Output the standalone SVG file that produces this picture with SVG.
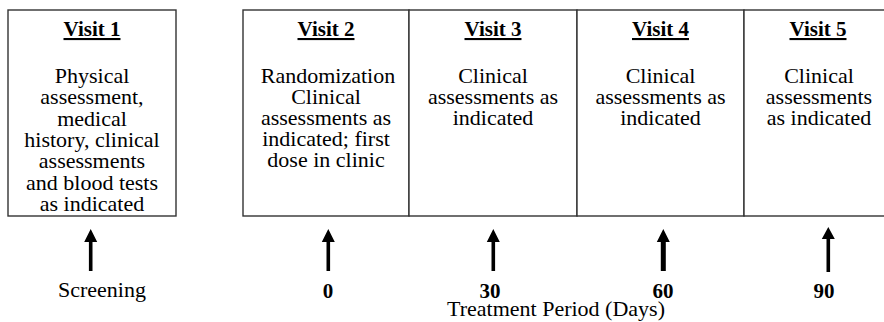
<svg xmlns="http://www.w3.org/2000/svg" width="884" height="322" viewBox="0 0 884 322">
<style>
.box{fill:#fff;stroke:#333;stroke-width:1.4}
.t{font-family:"Liberation Serif","Times New Roman",serif;font-size:22px;fill:#000;text-anchor:middle}
.h{font-family:"Liberation Serif","Times New Roman",serif;font-size:21px;font-weight:bold;fill:#000;text-anchor:middle;text-decoration:underline}
.n{font-family:"Liberation Serif","Times New Roman",serif;font-size:21px;font-weight:bold;fill:#000;text-anchor:middle}
.arr{fill:#000}
</style>
<rect width="884" height="322" fill="#fff"/>
<g id="visit1">
<rect class="box" x="8" y="10" width="168" height="206"/>
<text class="h" x="92" y="36">Visit 1</text>
<text class="t" x="92" y="83">Physical</text>
<text class="t" x="92" y="104.3">assessment,</text>
<text class="t" x="92" y="125.6">medical</text>
<text class="t" x="92" y="146.9">history, clinical</text>
<text class="t" x="92" y="168.2">assessments</text>
<text class="t" x="92" y="189.5">and blood tests</text>
<text class="t" x="92" y="210.8">as indicated</text>
</g>
<g id="visit2">
<rect class="box" x="243" y="10" width="166" height="206"/>
<text class="h" x="326" y="36">Visit 2</text>
<text class="t" x="328" y="83">Randomization</text>
<text class="t" x="326" y="104">Clinical</text>
<text class="t" x="326" y="125">assessments as</text>
<text class="t" x="326" y="146">indicated; first</text>
<text class="t" x="326" y="167">dose in clinic</text>
</g>
<g id="visit3">
<rect class="box" x="409" y="10" width="168" height="206"/>
<text class="h" x="493" y="36">Visit 3</text>
<text class="t" x="493" y="83">Clinical</text>
<text class="t" x="493" y="104">assessments as</text>
<text class="t" x="493" y="125">indicated</text>
</g>
<g id="visit4">
<rect class="box" x="577" y="10" width="167" height="206"/>
<text class="h" x="660.5" y="36">Visit 4</text>
<text class="t" x="660.5" y="83">Clinical</text>
<text class="t" x="660.5" y="104">assessments as</text>
<text class="t" x="660.5" y="125">indicated</text>
</g>
<g id="visit5">
<rect class="box" x="744" y="10" width="150" height="206"/>
<text class="h" x="818" y="36">Visit 5</text>
<text class="t" x="819" y="83">Clinical</text>
<text class="t" x="819" y="104">assessments</text>
<text class="t" x="819" y="125">as indicated</text>
</g>
<g id="connectors">
<path class="arr" d="M90.7 229 L97.2 242 L92.5 242 L92.5 271 L88.9 271 L88.9 242 L84.2 242 Z"/>
<path class="arr" d="M328.3 229 L334.8 242 L330.1 242 L330.1 271 L326.5 271 L326.5 242 L321.8 242 Z"/>
<path class="arr" d="M493.3 229 L499.8 242 L495.1 242 L495.1 271 L491.5 271 L491.5 242 L486.8 242 Z"/>
<path class="arr" d="M663.3 229 L669.8 242 L665.8 242 L665.8 271 L660.8 271 L660.8 242 L656.8 242 Z"/>
<path class="arr" d="M828.3 227 L834.8 239 L830.1 239 L830.1 272 L826.5 272 L826.5 239 L821.8 239 Z"/>
</g>
<g id="labels">
<text class="t" x="102" y="297">Screening</text>
<text class="n" x="328" y="298">0</text>
<text class="n" x="490" y="298">30</text>
<text class="n" x="663" y="298">60</text>
<text class="n" x="824" y="298">90</text>
<text class="t" x="556" y="316">Treatment Period (Days)</text>
</g>
</svg>
